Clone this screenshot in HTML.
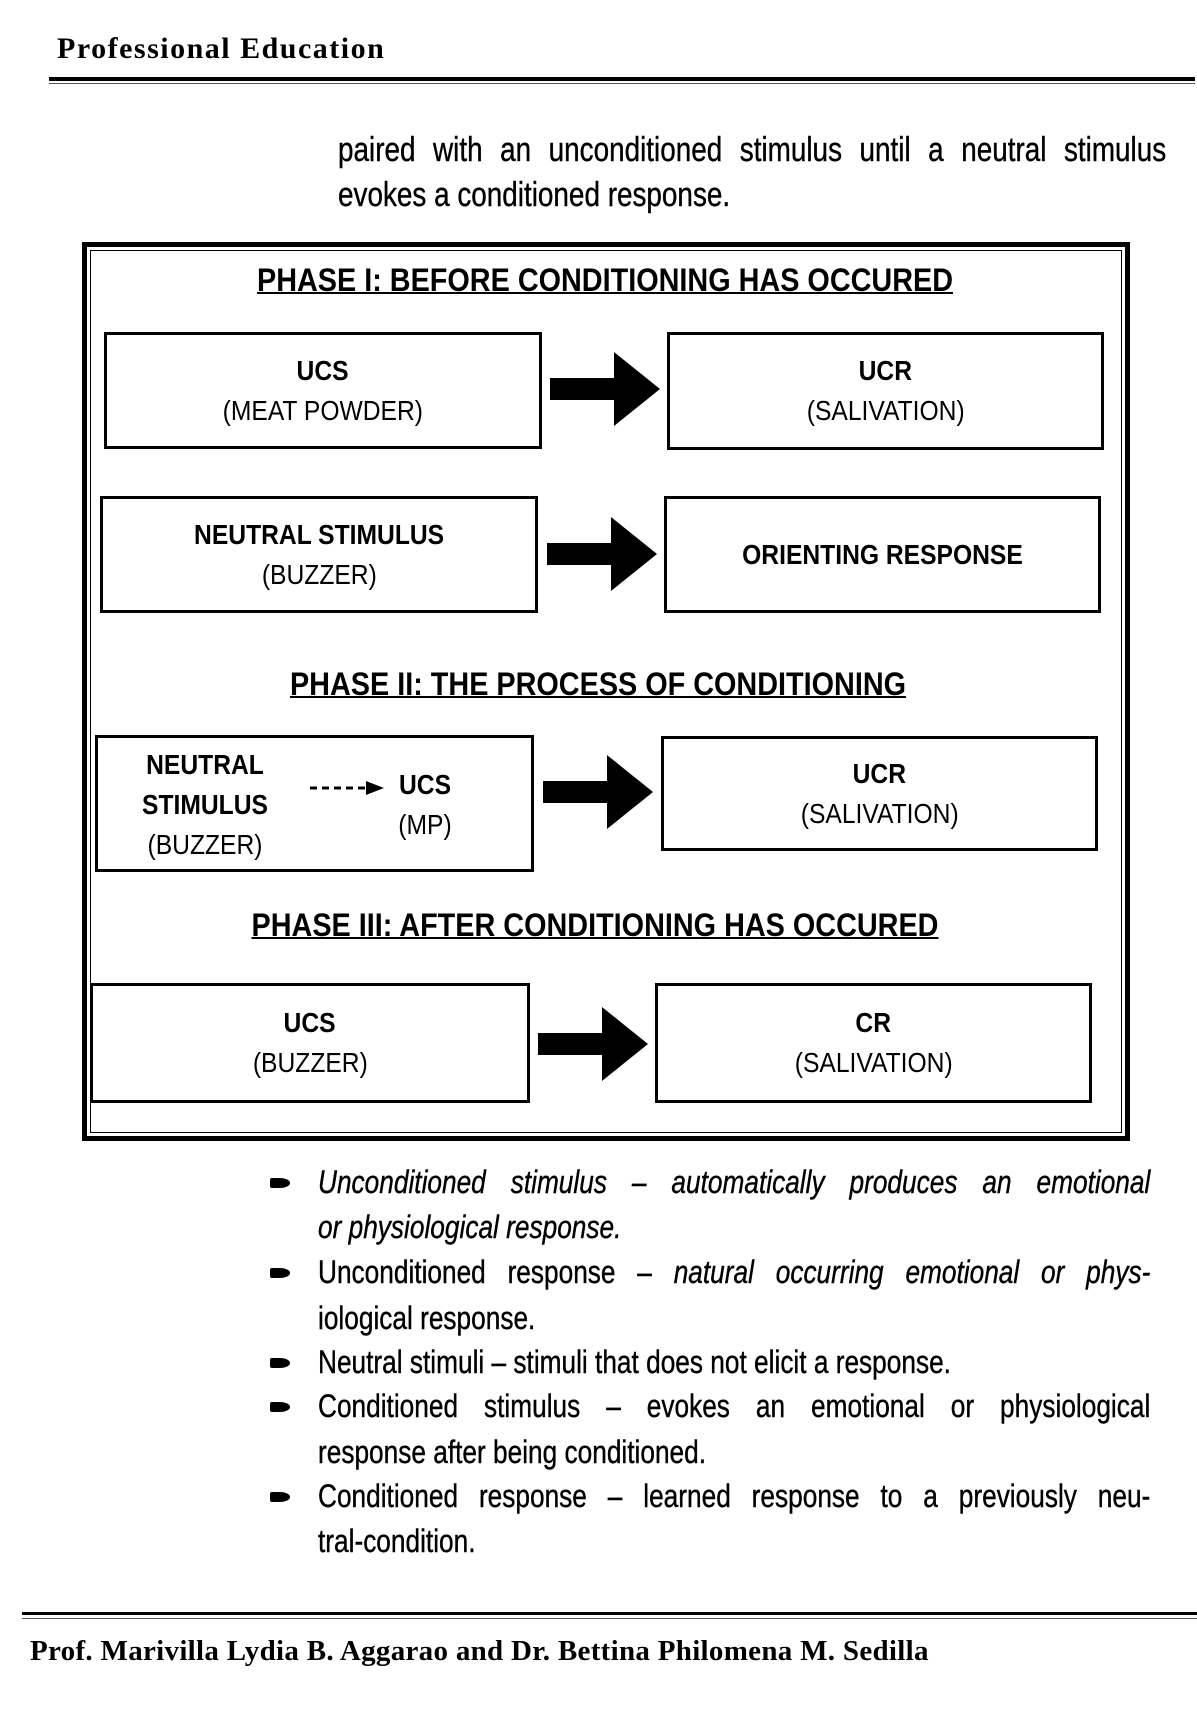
<!DOCTYPE html>
<html><head><meta charset="utf-8"><style>
body{margin:0;width:1197px;height:1716px;background:#fff;position:relative;overflow:hidden;font-family:"Liberation Sans",sans-serif;color:#000}
.a{position:absolute}
.n{transform:scaleX(0.82);transform-origin:0 0;white-space:nowrap}
.box{position:absolute;border:3px solid #000;box-sizing:border-box;display:flex;flex-direction:column;align-items:center;justify-content:center;text-align:center;font-size:28px;line-height:40px}
.box span{display:inline-block;transform:scaleX(0.88);white-space:nowrap}
.b{font-weight:bold}
.t{position:absolute;font-weight:bold;font-size:32px;text-decoration:underline;text-decoration-thickness:2px;white-space:nowrap;transform:translateX(-50%) scaleX(0.9)}
.arr{position:absolute}
.bl{position:absolute;left:318px;width:1015px;font-size:32px;line-height:44.5px;text-align:justify;transform:scaleX(0.82);transform-origin:0 0;white-space:nowrap;-webkit-text-stroke:0.4px #000}
.j{text-align-last:justify;white-space:normal}
.bu{position:absolute;left:270px;width:20px;height:10px;background:#000;border-radius:2px 50% 50% 2px}
</style></head><body>
<div class="a" style="left:57px;top:32px;font-family:'Liberation Serif',serif;font-size:30px;font-weight:bold;letter-spacing:1.5px">Professional Education</div>
<div class="a" style="left:49px;top:77px;width:1146px;height:4px;background:#000"></div>
<div class="a" style="left:49px;top:83px;width:1146px;height:1px;background:#555"></div>
<div class="a n" style="left:338px;top:128px;font-size:34px;line-height:45px;width:1010px;text-align:justify;text-align-last:justify;white-space:normal;-webkit-text-stroke:0.4px #000">paired with an unconditioned stimulus until a neutral stimulus</div>
<div class="a n" style="left:338px;top:173px;font-size:34px;line-height:45px;-webkit-text-stroke:0.4px #000">evokes a conditioned response.</div>

<div class="a" style="left:82px;top:242px;width:1048px;height:899px;border:5px solid #000;box-sizing:border-box;outline:1px solid #000;outline-offset:-9px"></div>

<div class="t" style="left:605px;top:262px">PHASE I: BEFORE CONDITIONING HAS OCCURED</div>
<div class="box" style="left:104px;top:332px;width:438px;height:117px"><span class="b">UCS</span><span>(MEAT POWDER)</span></div>
<div class="box" style="left:667px;top:332px;width:437px;height:118px"><span class="b">UCR</span><span>(SALIVATION)</span></div>
<svg class="arr" style="left:550px;top:350px" width="112" height="80"><polygon points="0,28 64,28 64,2 110,39 64,76 64,50 0,50"/></svg>

<div class="box" style="left:100px;top:496px;width:438px;height:117px"><span class="b">NEUTRAL STIMULUS</span><span>(BUZZER)</span></div>
<div class="box" style="left:664px;top:496px;width:437px;height:117px"><span class="b">ORIENTING RESPONSE</span></div>
<svg class="arr" style="left:547px;top:515px" width="112" height="80"><polygon points="0,28 64,28 64,2 110,39 64,76 64,50 0,50"/></svg>

<div class="t" style="left:598px;top:666px">PHASE II: THE PROCESS OF CONDITIONING</div>
<div class="box" style="left:95px;top:735px;width:439px;height:137px"></div>
<div class="a" style="left:130px;top:745px;width:150px;text-align:center;font-size:28px;line-height:40px"><div class="b" style="transform:scaleX(0.88)">NEUTRAL</div><div class="b" style="transform:scaleX(0.88)">STIMULUS</div><div style="transform:scaleX(0.88)">(BUZZER)</div></div>
<svg class="a" style="left:308px;top:778px" width="80" height="20"><line x1="2" y1="10" x2="58" y2="10" stroke="#000" stroke-width="3" stroke-dasharray="7,5"/><polygon points="58,3 76,10 58,17"/></svg>
<div class="a" style="left:380px;top:765px;width:90px;text-align:center;font-size:28px;line-height:40px"><div class="b" style="transform:scaleX(0.88)">UCS</div><div style="transform:scaleX(0.88)">(MP)</div></div>
<div class="box" style="left:661px;top:736px;width:437px;height:115px"><span class="b">UCR</span><span>(SALIVATION)</span></div>
<svg class="arr" style="left:543px;top:753px" width="112" height="80"><polygon points="0,28 64,28 64,2 110,39 64,76 64,50 0,50"/></svg>

<div class="t" style="left:595px;top:907px">PHASE III: AFTER CONDITIONING HAS OCCURED</div>
<div class="box" style="left:90px;top:983px;width:440px;height:120px"><span class="b">UCS</span><span>(BUZZER)</span></div>
<div class="box" style="left:655px;top:983px;width:437px;height:120px"><span class="b">CR</span><span>(SALIVATION)</span></div>
<svg class="arr" style="left:538px;top:1005px" width="112" height="80"><polygon points="0,28 64,28 64,2 110,39 64,76 64,50 0,50"/></svg>

<div class="bu" style="top:1178px"></div>
<div class="bl j" style="top:1160px;font-style:italic">Unconditioned stimulus – automatically produces an emotional</div>
<div class="bl" style="top:1205px;font-style:italic">or physiological response.</div>
<div class="bu" style="top:1268px"></div>
<div class="bl j" style="top:1250px">Unconditioned response – <i>natural occurring emotional or phys-</i></div>
<div class="bl" style="top:1296px">iological response.</div>
<div class="bu" style="top:1358px"></div>
<div class="bl" style="top:1340px">Neutral stimuli – stimuli that does not elicit a response.</div>
<div class="bu" style="top:1402px"></div>
<div class="bl j" style="top:1384px">Conditioned stimulus – evokes an emotional or physiological</div>
<div class="bl" style="top:1430px">response after being conditioned.</div>
<div class="bu" style="top:1492px"></div>
<div class="bl j" style="top:1474px">Conditioned response – learned response to a previously neu-</div>
<div class="bl" style="top:1519px">tral-condition.</div>

<div class="a" style="left:22px;top:1612px;width:1175px;height:3px;background:#000"></div>
<div class="a" style="left:22px;top:1618px;width:1175px;height:1px;background:#555"></div>
<div class="a" style="left:30px;top:1635px;font-family:'Liberation Serif',serif;font-size:29px;font-weight:bold;letter-spacing:0.3px">Prof. Marivilla Lydia B. Aggarao and Dr. Bettina Philomena M. Sedilla</div>
</body></html>
